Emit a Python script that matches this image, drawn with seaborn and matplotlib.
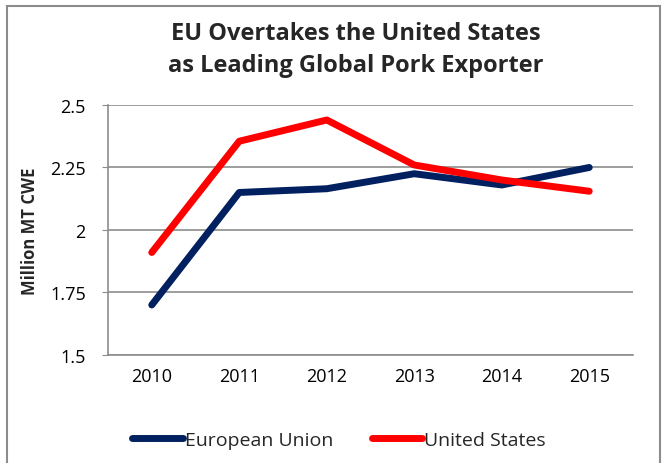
import matplotlib
matplotlib.use("Agg")
import matplotlib.pyplot as plt
import seaborn as sns
import pandas as pd
from matplotlib.patches import Rectangle

years = ["2010", "2011", "2012", "2013", "2014", "2015"]
eu_exports = [1.70, 2.15, 2.165, 2.225, 2.18, 2.25]
us_exports = [1.91, 2.355, 2.44, 2.26, 2.20, 2.155]
series_names = ["European Union", "United States"]
colors = ["#002060", "#FF0000"]

df = pd.DataFrame({
    "year": years * 2,
    "value": eu_exports + us_exports,
    "series": [series_names[0]] * len(years) + [series_names[1]] * len(years),
})

sns.set_style("white")
plt.rcParams['font.family'] = ['Open Sans', 'DejaVu Sans']

fig = plt.figure(figsize=(6.68, 4.64), dpi=100)
ax = fig.add_axes([0.1617, 0.2328, 0.7859, 0.5388])

sns.lineplot(data=df, x="year", y="value", hue="series", palette=colors,
             linewidth=5, ax=ax, sort=False, legend=True,
             solid_capstyle="round")

ax.set_xlim(-0.5, 5.5)
ax.set_ylim(1.5, 2.5)
ax.set_yticks([1.5, 1.75, 2, 2.25, 2.5])
ax.set_yticklabels(["1.5", "1.75", "2", "2.25", "2.5"])
ax.yaxis.grid(True, color="#8c8c8c", linewidth=1.2)
ax.xaxis.grid(False)
for s in ["top", "right"]:
    ax.spines[s].set_visible(False)
for s in ["left", "bottom"]:
    ax.spines[s].set_color("#8c8c8c")
    ax.spines[s].set_linewidth(1.2)
ax.tick_params(axis="both", labelsize=13, colors="#000000", length=0, pad=9)
ax.tick_params(axis="y", left=True, length=4, color="#8c8c8c", pad=12)
ax.set_xlabel("")
ax.set_ylabel("Million MT CWE", fontsize=12, fontweight="bold", labelpad=8)

fig.text(0.532, 0.952, "EU Overtakes the United States\nas Leading Global Pork Exporter",
         ha="center", va="top", fontsize=17, fontweight="bold", linespacing=1.45)

handles, labels = ax.get_legend_handles_labels()
ax.legend(handles, labels, loc="center", bbox_to_anchor=(0.44, -0.34),
          ncol=2, frameon=False, fontsize=14, handlelength=2.6,
          handletextpad=0.1, columnspacing=2.0)

fig.patches.append(Rectangle((7 / 668, -0.1), (660 - 7) / 668, 1.1 - 7 / 464,
                             transform=fig.transFigure, fill=False,
                             edgecolor="#8c8c8c", linewidth=1.5))

fig.savefig("out.png", dpi=100)
